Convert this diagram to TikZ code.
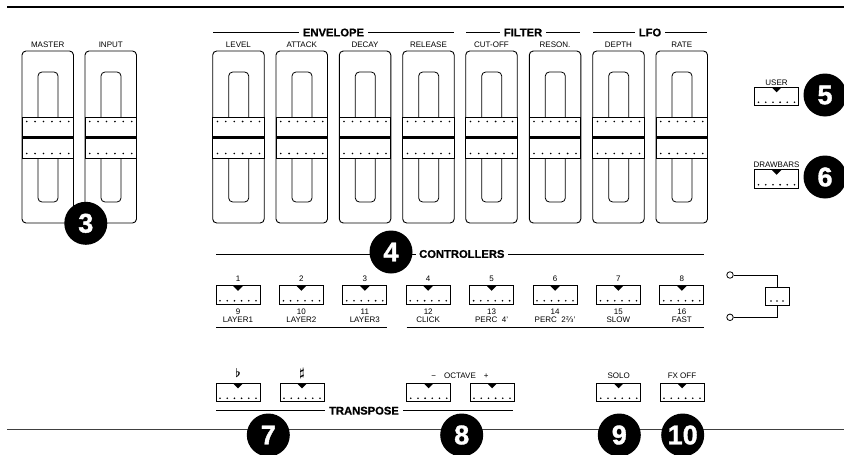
\documentclass[tikz,border=0pt]{standalone}
\usepackage{amsmath}
\usepackage{fontspec}
\setmainfont{Liberation Sans}
\newfontfamily\dvfont{DejaVu Sans}
\newfontfamily\heavyfont{Liberation Sans}[BoldFeatures={FakeBold=1.4}]
\newfontfamily\hdrfont{Liberation Sans}[BoldFeatures={FakeBold=0.6}]
\begin{document}
\begin{tikzpicture}[x=1pt,y=-1pt,
  lbl/.style={inner sep=0pt, font=\fontsize{8}{8}\selectfont},
  hdr/.style={inner sep=0pt, inner xsep=4pt, fill=white, font=\hdrfont\fontsize{11.2}{11.2}\selectfont\bfseries},
  badge/.style={circle, fill=black, minimum size=43pt, inner sep=0pt, text=white, font=\heavyfont\fontsize{27}{27}\selectfont\bfseries},
  rule/.style={line width=1pt},
  btn/.style={draw, line width=0.8pt, minimum width=44pt, minimum height=18.5pt, inner sep=0pt, path picture={
     \fill ([xshift=-5pt]path picture bounding box.north) -- ([xshift=5pt]path picture bounding box.north) -- ([yshift=-5pt]path picture bounding box.north) -- cycle;
     \foreach \k in {-2.5,-1.5,...,2.5} \fill ([xshift=\k*7.2pt, yshift=3.5pt]path picture bounding box.south) circle (0.9pt);}},
  fader/.pic={
    \draw[line width=0.9pt, rounded corners=4pt] (0,0) rectangle (51.5,172);
    \draw[line width=0.8pt, rounded corners=4pt] (16,21) rectangle (36,151);
    \filldraw[line width=0.9pt, fill=white] (0,66) rectangle (51.5,107);
    \draw[line width=3pt] (0,86.5) -- (51.5,86.5);
    \foreach \k in {0,...,5} {\fill (4.7+8.4*\k,70.5) circle (0.9pt); \fill (4.7+8.4*\k,102.5) circle (0.9pt);}
  }
]
\useasboundingbox (0,0) rectangle (844,455);
% frame lines
\draw[line width=1.3pt] (7,7) -- (844,7);
\draw[line width=1pt, black!75] (7,429) -- (844,429);
% faders
\foreach \x/\t [count=\i] in {22/MASTER, 85/INPUT, 212.7/LEVEL, 276/ATTACK, 339.3/DECAY, 402.7/RELEASE, 465.7/CUT-OFF, 529.3/RESON., 592.7/DEPTH, 656/RATE} {
  \pic (f\i) at (\x,51) {fader};
  \node[lbl] (fl\i) at (\x+25.75,45) {\t};
}
% headers
\draw[rule] (213,32.5) -- (454,32.5);
\node[hdr] (henv) at (333.5,32.5) {ENVELOPE};
\draw[rule] (466,32.5) -- (580,32.5);
\node[hdr] (hfil) at (523,32.5) {FILTER};
\draw[rule] (593,32.5) -- (707,32.5);
\node[hdr] (hlfo) at (650,32.5) {LFO};
% user / drawbars
\node[lbl] (luser) at (776.5,83) {USER};
\node[btn] (user) at (776.5,96.5) {};
\node[lbl] (ldraw) at (776.5,165) {DRAWBARS};
\node[btn] (draw) at (776.5,179) {};
% controllers
\draw[rule] (216,254) -- (704,254);
\node[hdr, anchor=west, inner xsep=3.5pt] (hctl) at (415.5,254) {CONTROLLERS};
\foreach \t/\b/\n [count=\i from 0] in {1/9/LAYER1, 2/10/LAYER2, 3/11/LAYER3, 4/12/CLICK, 5/13/PERC~~4', 6/14/{PERC~~2{\dvfont ⅔}'}, 7/15/SLOW, 8/16/FAST} {
  \pgfmathsetmacro\cx{238+63.4*\i}
  \node[btn] (k\t) at (\cx,295) {};
  \node[lbl] (kt\t) at (\cx,279) {\t};
  \node[lbl] (kb\t) at (\cx,311.5) {\b};
  \node[lbl] (kn\t) at (\cx,320) {\n};
}
\draw[line width=0.8pt] (216,327) -- (387,327);
\draw[line width=0.8pt] (406.7,327) -- (704,327);
% switch
\node[draw, line width=0.8pt, minimum width=24pt, minimum height=18pt, inner sep=0pt,
  path picture={\foreach \k in {-1,0,1} \fill ([xshift=\k*6pt, yshift=4.5pt]path picture bounding box.south) circle (0.9pt);}] (sw) at (777,296.5) {};
\node[circle, draw, line width=0.8pt, minimum size=6.5pt, inner sep=0pt] (swa) at (730,275) {};
\node[circle, draw, line width=0.8pt, minimum size=6.5pt, inner sep=0pt] (swb) at (730,317.3) {};
\draw[line width=1pt] (swa.east) -| (sw.north);
\draw[line width=1pt] (swb.east) -| (sw.south);
% bottom row
\node[btn] (flat) at (238,392.5) {};
\node[btn] (sharp) at (302,392.5) {};
\node[inner sep=0pt, font=\fontsize{12}{12}\selectfont] (lflat) at (238,373) {$\boldsymbol{\flat}$};
\node[inner sep=0pt, font=\fontsize{12}{12}\selectfont] (lsharp) at (302,373) {$\boldsymbol{\sharp}$};
\node[btn] (octm) at (428.7,392.5) {};
\node[btn] (octp) at (492,392.5) {};
\node[lbl] (loct) at (460,375.5) {−\quad OCTAVE\quad +};
\node[btn] (solo) at (618.7,392.5) {};
\node[lbl] (lsolo) at (618.7,375.5) {SOLO};
\node[btn] (fx) at (682,392.5) {};
\node[lbl] (lfx) at (682,375.5) {FX OFF};
\draw[rule] (216,410.7) -- (513.3,410.7);
\node[hdr] (htr) at (364,410.7) {TRANSPOSE};
% badges
\node[badge] (n3) at (85.8,223.3) {3};
\node[badge] (n4) at (391,252) {4};
\node[badge] (n5) at (825,95) {5};
\node[badge] (n6) at (825,177) {6};
\node[badge] (n7) at (268.3,435) {7};
\node[badge] (n8) at (461.7,435) {8};
\node[badge] (n9) at (619.3,435) {9};
\node[badge] (n10) at (682.7,435) {10};
\end{tikzpicture}
\end{document}
